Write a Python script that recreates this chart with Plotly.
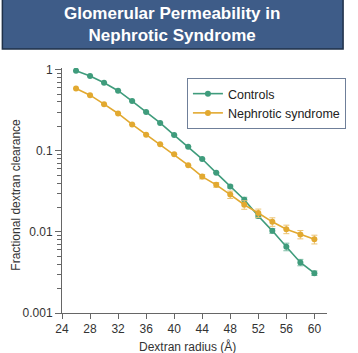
import plotly.graph_objects as go

radius = [26, 28, 30, 32, 34, 36, 38, 40, 42, 44, 46, 48, 50, 52, 54, 56, 58, 60]
controls = [0.97, 0.835, 0.69, 0.55, 0.41, 0.30, 0.22, 0.156, 0.112, 0.079,
            0.0534, 0.0362, 0.0249, 0.0157, 0.0103, 0.00655, 0.0042, 0.0031]
controls_err = [0, 0, 0, 0, 0, 0, 0, 0, 0, 0,
                0, 0.0015, 0.0018, 0.0009, 0.0007, 0.0007, 0.00038, 0.0002]
nephrotic = [0.585, 0.484, 0.375, 0.288, 0.211, 0.158, 0.120, 0.0906, 0.0664, 0.048,
             0.038, 0.0288, 0.0216, 0.0171, 0.0133, 0.0108, 0.0093, 0.0081]
nephrotic_err = [0, 0, 0, 0, 0, 0, 0, 0, 0, 0.003,
                 0.0025, 0.003, 0.0026, 0.002, 0.0016, 0.0013, 0.0011, 0.001]

x_ticks = [24, 28, 32, 36, 40, 44, 48, 52, 56, 60]
y_ticks = [0.001, 0.01, 0.1, 1]
y_ticktext = ["0.001", "0.01", "0.1", "1"]

title_text = "Glomerular Permeability in<br>Nephrotic Syndrome"
x_title = "Dextran radius (Å)"
y_title = "Fractional dextran clearance"
green = "#3f9c7c"
gold = "#e2a930"

fig = go.Figure()
fig.add_trace(go.Scatter(
    x=radius, y=controls, name="Controls", mode="lines+markers",
    line=dict(color=green, width=1.6), marker=dict(size=6, color=green),
    error_y=dict(type="data", array=controls_err, color="#7cbca4", thickness=1, width=3),
))
fig.add_trace(go.Scatter(
    x=radius, y=nephrotic, name="Nephrotic syndrome", mode="lines+markers",
    line=dict(color=gold, width=1.6), marker=dict(size=6, color=gold),
    error_y=dict(type="data", array=nephrotic_err, color="#ecc371", thickness=1, width=3),
))

W, H = 358, 353
L, R, T, B = 62, 16, 68, 40
pw, ph = W - L - R, H - T - B

def px(xp):
    return (xp - L) / pw

def py(yp):
    return 1 - (yp - T) / ph

fig.add_shape(type="rect", xref="paper", yref="paper",
              x0=px(-1), x1=px(W + 1), y0=py(49), y1=py(-1),
              fillcolor="#3e5c88", line=dict(color="#1f3048", width=1.5), layer="above")
fig.add_annotation(text=title_text, xref="paper", yref="paper", x=px(178), y=py(24),
                   showarrow=False, font=dict(family="Liberation Sans, Arial", size=17, color="white", weight="bold"),
                   xanchor="center", yanchor="middle", align="center")

tick_font = dict(family="Liberation Sans, Arial", size=12, color="#333333")
title_font = dict(family="Liberation Sans, Arial", size=12, color="#333333")
fig.add_annotation(text=x_title, xref="paper", yref="paper", x=px(195), y=py(346),
                   showarrow=False, font=title_font, xanchor="center", yanchor="middle")
fig.add_annotation(text=y_title, xref="paper", yref="paper", x=px(13), y=py(195),
                   showarrow=False, font=title_font, xanchor="center", yanchor="middle",
                   textangle=-90)

fig.update_xaxes(range=[24, 61.8], tickvals=x_ticks, ticks="outside", ticklen=5,
                 tickcolor="#666666", showline=True, linecolor="#666666", linewidth=1,
                 showgrid=False, zeroline=False, tickfont=tick_font, ticklabelstandoff=0,
                 automargin=False)
fig.update_yaxes(type="log", range=[-3, 0.02], tickvals=y_ticks, ticktext=y_ticktext,
                 ticks="outside", ticklen=6, tickcolor="#666666", showline=True,
                 linecolor="#666666", linewidth=1, showgrid=False, zeroline=False,
                 tickfont=tick_font, ticklabelstandoff=0, automargin=False,
                 minor=dict(ticks="outside", ticklen=4, tickcolor="#666666", dtick="D1", showgrid=False))

fig.update_layout(
    width=W, height=H, margin=dict(l=L, r=R, t=T, b=B),
    paper_bgcolor="white", plot_bgcolor="white",
    font=dict(family="Liberation Sans, Arial"),
    legend=dict(x=px(194), y=py(78), xanchor="left", yanchor="top",
                bordercolor="#6f7f99", borderwidth=1, bgcolor="white",
                font=dict(family="Liberation Sans, Arial", size=12.5, color="#222222"),
                itemwidth=30, tracegroupgap=0),
)

fig.write_html("out.html")
